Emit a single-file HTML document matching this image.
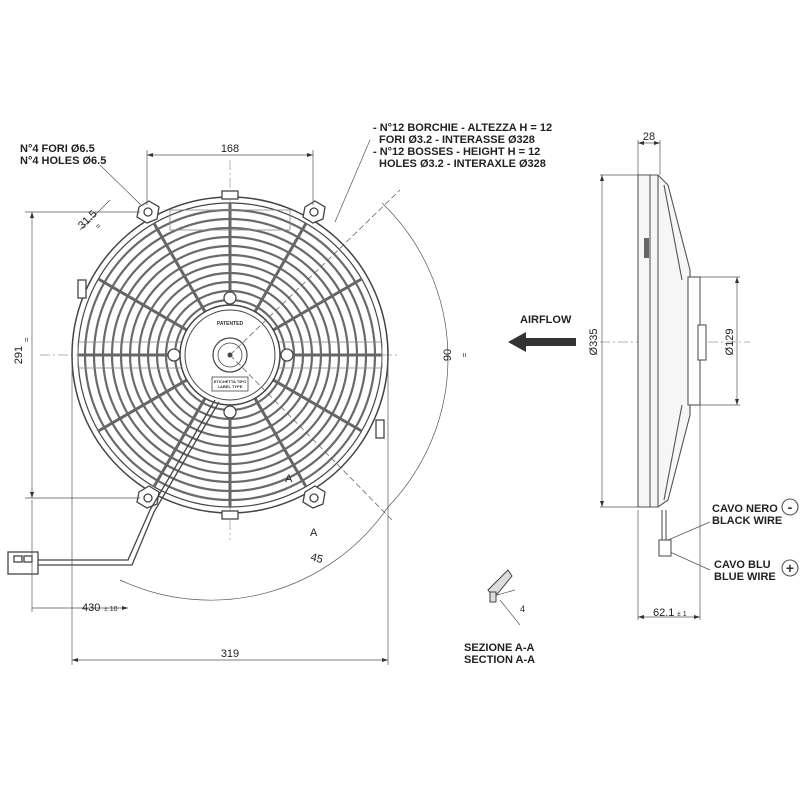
<!DOCTYPE html>
<html><head><meta charset="utf-8"><style>
html,body{margin:0;padding:0;background:#fff;}
svg{display:block;font-family:"Liberation Sans",sans-serif;}
</style></head><body>
<svg width="800" height="800" viewBox="0 0 800 800" xmlns="http://www.w3.org/2000/svg">
<rect width="800" height="800" fill="#fff"/>
<g stroke="#999" stroke-width="0.7" stroke-dasharray="10,3,2,3" fill="none">
<line x1="40" y1="355" x2="400" y2="355"/>
<line x1="230" y1="160" x2="230" y2="540"/>
<line x1="600" y1="342" x2="750" y2="342"/>
</g>
<g fill="none" stroke="#444">
<circle cx="230" cy="355" r="158" stroke-width="1.5"/>
<circle cx="230" cy="355" r="152" stroke-width="1.2"/>
<g stroke="#6a6a6a" stroke-width="2.2">
<circle cx="230" cy="355" r="55"/><circle cx="230" cy="355" r="64"/><circle cx="230" cy="355" r="73"/>
<circle cx="230" cy="355" r="82"/><circle cx="230" cy="355" r="91"/><circle cx="230" cy="355" r="100"/>
<circle cx="230" cy="355" r="109"/><circle cx="230" cy="355" r="118"/><circle cx="230" cy="355" r="127"/>
<circle cx="230" cy="355" r="136"/><circle cx="230" cy="355" r="145"/>
</g>
<g stroke="#666" stroke-width="3">
<line x1="278" y1="355" x2="382" y2="355"/>
<line x1="271.6" y1="379" x2="361.6" y2="431"/>
<line x1="254" y1="396.6" x2="306" y2="486.6"/>
<line x1="230" y1="403" x2="230" y2="507"/>
<line x1="206" y1="396.6" x2="154" y2="486.6"/>
<line x1="188.4" y1="379" x2="98.4" y2="431"/>
<line x1="182" y1="355" x2="78" y2="355"/>
<line x1="188.4" y1="331" x2="98.4" y2="279"/>
<line x1="206" y1="313.4" x2="154" y2="223.4"/>
<line x1="230" y1="307" x2="230" y2="203"/>
<line x1="254" y1="313.4" x2="306" y2="223.4"/>
<line x1="271.6" y1="331" x2="361.6" y2="279"/>
</g>
<g stroke="#888" stroke-width="0.8">
<rect x="78" y="342" width="304" height="26"/>
<rect x="170" y="210" width="120" height="20"/>
</g>
<circle cx="230" cy="355" r="50" fill="#fff" stroke-width="1.5"/>
<circle cx="230" cy="355" r="45" stroke-width="1"/>
<circle cx="230" cy="355" r="17" stroke-width="1.2"/>
<circle cx="230" cy="355" r="12" stroke-width="0.8"/>
<circle cx="230" cy="355" r="2" fill="#444"/>
<g fill="#fff" stroke-width="1.3">
<circle cx="230" cy="298" r="6"/><circle cx="230" cy="412" r="6"/>
<circle cx="174" cy="355" r="6"/><circle cx="287" cy="355" r="6"/>
</g>
<rect x="212" y="377" width="36" height="14" stroke-width="0.8"/>
<g fill="#fff" stroke-width="1.3">
<path d="M139 207 l10 -6 l10 6 l-2 12 l-10 4 l-10 -6z"/><circle cx="148" cy="212" r="4"/>
<path d="M305 207 l10 -6 l10 6 l-2 12 l-10 4 l-10 -6z"/><circle cx="314" cy="212" r="4"/>
<path d="M139 492 l10 -6 l10 6 l-2 12 l-10 4 l-10 -6z"/><circle cx="148" cy="498" r="4"/>
<path d="M305 492 l10 -6 l10 6 l-2 12 l-10 4 l-10 -6z"/><circle cx="314" cy="498" r="4"/>
<rect x="222" y="191" width="16" height="8"/><rect x="222" y="511" width="16" height="8"/>
<rect x="376" y="420" width="8" height="18"/><rect x="78" y="280" width="8" height="18"/>
</g>
</g>
<text x="230" y="325" font-size="5" font-weight="bold" text-anchor="middle" fill="#333">PATENTED</text>
<text x="230" y="383" font-size="4" font-weight="bold" text-anchor="middle" fill="#333">ETICHETTA TIPO</text>
<text x="230" y="388" font-size="4" font-weight="bold" text-anchor="middle" fill="#333">LABEL TYPE</text>
<g fill="none" stroke="#444" stroke-width="1.3">
<path d="M215 400 L150 510 L128 560 L38 560"/>
<path d="M219 402 L154 512 L132 565 L38 565"/>
<rect x="8" y="552" width="30" height="22" fill="#fff"/>
<rect x="14" y="556" width="8" height="6"/><rect x="24" y="556" width="8" height="6"/>
</g>
<g stroke="#555" stroke-width="0.7" fill="none">
<line x1="147" y1="150" x2="147" y2="205"/><line x1="313" y1="150" x2="313" y2="205"/>
<line x1="147" y1="155" x2="313" y2="155"/>
<line x1="25" y1="212" x2="140" y2="212"/><line x1="25" y1="498" x2="140" y2="498"/>
<line x1="32" y1="212" x2="32" y2="498"/>
<line x1="72" y1="360" x2="72" y2="665"/><line x1="388" y1="360" x2="388" y2="665"/>
<line x1="72" y1="660" x2="388" y2="660"/>
<line x1="32" y1="500" x2="32" y2="612"/>
<line x1="32" y1="608" x2="128" y2="608"/>
<path d="M382 203 A215 215 0 0 1 388 507"/>
<path d="M388 507 A215 215 0 0 1 120 580"/>
<line x1="230" y1="355" x2="400" y2="190" stroke-dasharray="6,3"/>
<line x1="230" y1="355" x2="392" y2="520" stroke-dasharray="6,3"/>
<line x1="100" y1="165" x2="141" y2="205"/>
<line x1="370" y1="140" x2="335" y2="222"/>
<line x1="80" y1="230" x2="110" y2="200"/>
<line x1="638" y1="140" x2="638" y2="175"/><line x1="660" y1="140" x2="660" y2="175"/>
<line x1="638" y1="143" x2="660" y2="143"/>
<line x1="600" y1="175" x2="640" y2="175"/><line x1="600" y1="507" x2="640" y2="507"/>
<line x1="602" y1="175" x2="602" y2="507"/>
<line x1="700" y1="277" x2="740" y2="277"/><line x1="700" y1="405" x2="740" y2="405"/>
<line x1="737" y1="277" x2="737" y2="405"/>
<line x1="638" y1="510" x2="638" y2="620"/><line x1="700" y1="405" x2="700" y2="620"/>
<line x1="638" y1="617" x2="700" y2="617"/>
<line x1="668" y1="540" x2="710" y2="522"/>
<line x1="670" y1="552" x2="710" y2="570"/>
<line x1="500" y1="600" x2="520" y2="625"/>
<line x1="490" y1="597" x2="515" y2="590"/>
</g>
<g fill="#333">
<path d="M147 155 l6 -2 v4z"/><path d="M313 155 l-6 -2 v4z"/>
<path d="M72 660 l6 -2 v4z"/><path d="M388 660 l-6 -2 v4z"/>
<path d="M32 212 l-2 6 h4z"/><path d="M32 498 l-2 -6 h4z"/>
<path d="M602 175 l-2 6 h4z"/><path d="M602 507 l-2 -6 h4z"/>
<path d="M737 277 l-2 6 h4z"/><path d="M737 405 l-2 -6 h4z"/>
<path d="M638 617 l6 -2 v4z"/><path d="M700 617 l-6 -2 v4z"/>
<path d="M638 143 l6 -2 v4z"/><path d="M660 143 l-6 -2 v4z"/>
<path d="M128 608 l-6 -2 v4z"/>
<path d="M508 342 l18 -10 v6 h50 v8 h-50 v6z"/>
</g>
<g fill="none" stroke="#555" stroke-width="1.1">
<path d="M638 175 L658 175 L668 185 L690 270 L690 415 L668 500 L658 507 L638 507 Z" fill="#f6f6f6"/>
<line x1="650" y1="175" x2="650" y2="507"/>
<line x1="658" y1="175" x2="658" y2="507"/>
<line x1="664" y1="185" x2="682" y2="280"/><line x1="664" y1="500" x2="682" y2="405"/>
<rect x="688" y="277" width="12" height="128" fill="#fff"/>
<rect x="698" y="325" width="8" height="35" fill="#fff"/>
<line x1="662" y1="510" x2="662" y2="540"/><line x1="666" y1="510" x2="666" y2="540"/>
<rect x="659" y="540" width="12" height="16" fill="#fff"/>
<circle cx="790" cy="507" r="8"/><circle cx="790" cy="568" r="8"/>
</g>
<rect x="644" y="238" width="5" height="20" fill="#666"/>
<text x="790" y="512" font-size="14" font-weight="bold" text-anchor="middle" fill="#333">-</text>
<text x="790" y="573" font-size="14" font-weight="bold" text-anchor="middle" fill="#333">+</text>
<g font-size="11" font-weight="bold" fill="#222">
<text x="20" y="152">N°4 FORI Ø6.5</text>
<text x="20" y="164">N°4 HOLES Ø6.5</text>
<text x="373" y="131">- N°12 BORCHIE - ALTEZZA H = 12</text>
<text x="379" y="143">FORI Ø3.2 - INTERASSE Ø328</text>
<text x="373" y="155">- N°12 BOSSES - HEIGHT H = 12</text>
<text x="379" y="167">HOLES Ø3.2 - INTERAXLE Ø328</text>
<text x="230" y="152" text-anchor="middle" font-weight="normal">168</text>
<text x="230" y="657" text-anchor="middle" font-weight="normal">319</text>
<text x="82" y="611" font-weight="normal">430</text><text x="104" y="611" font-size="7" font-weight="normal">± 10</text>
<text x="649" y="140" text-anchor="middle" font-weight="normal">28</text>
<text x="653" y="616" font-weight="normal">62.1</text><text x="677" y="616" font-size="7" font-weight="normal">± 1</text>
<text x="520" y="323">AIRFLOW</text>
<text x="712" y="512">CAVO NERO</text>
<text x="712" y="524">BLACK WIRE</text>
<text x="714" y="568">CAVO BLU</text>
<text x="714" y="580">BLUE WIRE</text>
<text x="464" y="651">SEZIONE A-A</text>
<text x="464" y="663">SECTION A-A</text>
<text x="310" y="536" font-weight="normal">A</text>
<text x="285" y="482" font-weight="normal">A</text>
<text x="310" y="560" font-weight="normal" transform="rotate(15 310 560)">45</text>
<text x="520" y="612" font-weight="normal" font-size="9">4</text>
<text x="22" y="355" font-weight="normal" transform="rotate(-90 22 355)" text-anchor="middle">291</text>
<text x="29" y="342" font-weight="normal" font-size="8" transform="rotate(-90 29 342)">=</text>
<text x="451" y="355" font-weight="normal" transform="rotate(-90 451 355)" text-anchor="middle">90</text>
<text x="467" y="355" font-weight="normal" font-size="8" transform="rotate(-90 467 355)" text-anchor="middle">=</text>
<text x="597" y="342" font-weight="normal" transform="rotate(-90 597 342)" text-anchor="middle">Ø335</text>
<text x="733" y="342" font-weight="normal" transform="rotate(-90 733 342)" text-anchor="middle">Ø129</text>
<text x="90" y="222" font-weight="normal" transform="rotate(-45 90 222)" text-anchor="middle">31.5</text>
<text x="100" y="228" font-weight="normal" font-size="8" transform="rotate(-45 100 228)" text-anchor="middle">=</text>
</g>
<g stroke="#444" fill="#ddd" stroke-width="1">
<path d="M488 590 L508 570 L512 576 L494 598 Z"/>
<rect x="490" y="592" width="6" height="10"/>
</g>
</svg>
</body></html>
